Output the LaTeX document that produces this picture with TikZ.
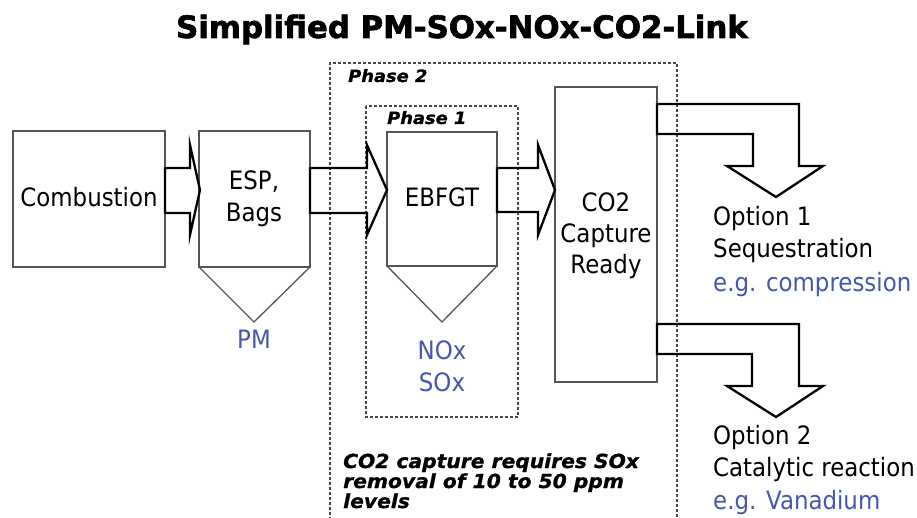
\documentclass[tikz,border=0pt]{standalone}
\usepackage{fontspec}
\setmainfont{DejaVu Sans}[FakeStretch=0.905]
\newfontfamily\titlefont{DejaVu Sans Bold}[FakeBold=2]
\newfontfamily\notefont{DejaVu Sans Bold Oblique}[FakeStretch=1.05,FakeBold=1]
\definecolor{boxgray}{RGB}{85,85,85}
\definecolor{dashgray}{RGB}{70,70,70}
\definecolor{txtblue}{RGB}{70,86,172}
\begin{document}
\begin{tikzpicture}[x=1pt,y=-1pt,
  boxline/.style={draw=boxgray,line width=1.3pt},
  blockarrow/.style={draw=black,line width=2.3pt,line join=miter},
  phasebox/.style={draw=dashgray,line width=1.5pt,dash pattern=on 3pt off 2pt},
  maintext/.style={font=\fontsize{25.3}{30}\selectfont,inner sep=0pt,anchor=base},
  bluetext/.style={maintext,text=txtblue},
  notetext/.style={font=\notefont\fontsize{19.3}{20}\selectfont,inner sep=0pt,anchor=base west},
  phasetext/.style={font=\notefont\fontsize{17}{20}\selectfont,inner sep=0pt,anchor=base west}]
\useasboundingbox (0,0) rectangle (917,518);
% title
\node[font=\titlefont\fontsize{30.8}{34}\selectfont,inner sep=0pt,anchor=base] (title) at (462,38) {Simplified PM-SOx-NOx-CO2-Link};
% phase boxes
\draw[phasebox] (330,530) -- (330,63) -- (677,63) -- (677,530);
\draw[phasebox] (366,106) rectangle (518,417);
\node[phasetext] (ph2) at (348,82) {Phase 2};
\node[phasetext] (ph1) at (387,124) {Phase 1};
% boxes
\draw[boxline] (13,131) rectangle (165,267);
\draw[boxline] (199,131) rectangle (310,267);
\draw[boxline] (199,267) -- (254,322) -- (310,267);
\draw[boxline] (387,132) rectangle (497,266);
\draw[boxline] (387,266) -- (442,322) -- (497,266);
\draw[boxline] (555,87) rectangle (657,382);
% texts
\node[maintext] (comb) at (89,207) {Combustion};
\node[maintext] (esp) at (254,190) {ESP,};
\node[maintext] (bags) at (254,222) {Bags};
\node[maintext] (ebfgt) at (442,207) {EBFGT};
\node[maintext] (co2) at (606,212) {CO2};
\node[maintext] (capt) at (606,243) {Capture};
\node[maintext] (ready) at (606,273) {Ready};
\node[bluetext] (pm) at (254,348) {PM};
\node[bluetext] (nox) at (442,359) {NOx};
\node[bluetext] (sox) at (442,391) {SOx};
\node[maintext,anchor=base west] (o1a) at (713,226) {Option 1};
\node[maintext,anchor=base west] (o1b) at (713,258) {Sequestration};
\node[bluetext,anchor=base west] (o1c) at (713,291) {e.g. compression};
\node[maintext,anchor=base west] (o2a) at (713,444) {Option 2};
\node[maintext,anchor=base west] (o2b) at (713,476) {Catalytic reaction};
\node[bluetext,anchor=base west] (o2c) at (713,509) {e.g. Vanadium};
\node[notetext] (n1) at (343,468) {CO2 capture requires SOx};
\node[notetext] (n2) at (343,488) {removal of 10 to 50 ppm};
\node[notetext] (n3) at (343,508) {levels};
% block arrows
\draw[blockarrow] (165,168) -- (190,168) -- (190,145) -- (200,190) -- (190,235) -- (190,213) -- (165,213) -- cycle;
\draw[blockarrow] (310,168) -- (367,168) -- (367,145) -- (387,190) -- (367,235) -- (367,213) -- (310,213) -- cycle;
\draw[blockarrow] (497,168) -- (538,168) -- (538,145) -- (555,190) -- (538,235) -- (538,212) -- (497,212) -- cycle;
\draw[blockarrow] (657,104) -- (799,104) -- (799,166) -- (823,166) -- (776,197) -- (727,166) -- (753,166) -- (753,134) -- (657,134) -- cycle;
\draw[blockarrow] (657,324) -- (799,324) -- (799,386) -- (823,386) -- (776,417) -- (727,386) -- (752,386) -- (752,354) -- (657,354) -- cycle;
\end{tikzpicture}
\end{document}
